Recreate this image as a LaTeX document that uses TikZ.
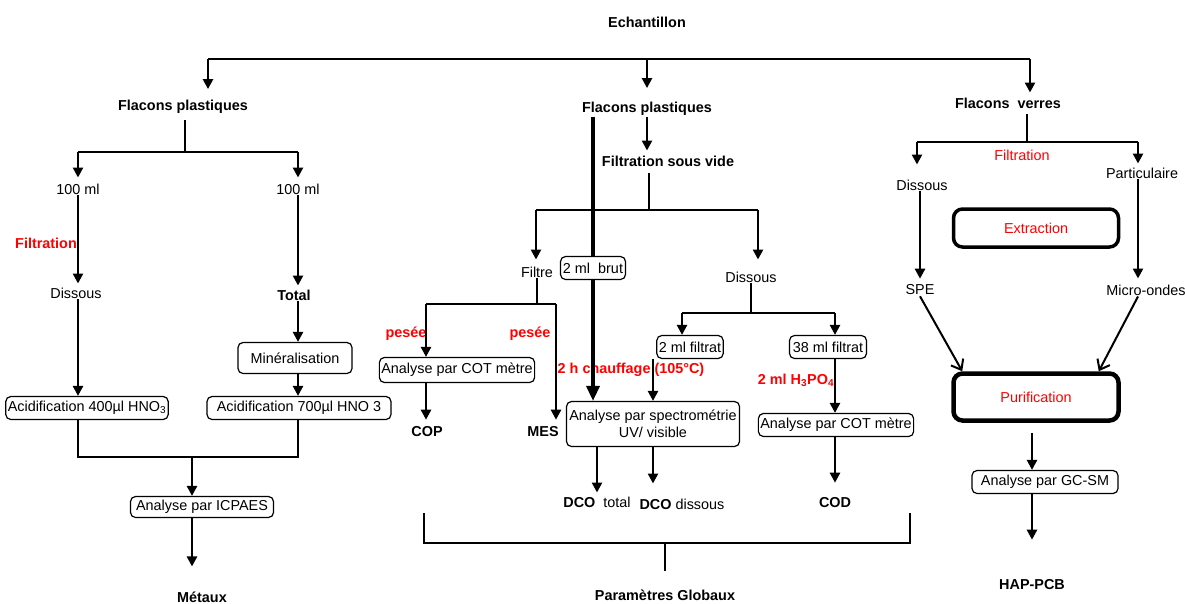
\documentclass[tikz,border=0pt]{standalone}
\usepackage{fontspec}
\setmainfont{Liberation Sans}
\usetikzlibrary{arrows.meta,positioning,calc}

\tikzset{
  txt/.style={font=\fontsize{14.4}{17}\selectfont, inner sep=1pt},
  btxt/.style={font=\fontsize{14.4}{17}\selectfont\bfseries, inner sep=1pt},
  rouge/.style={btxt, text=red},
  rougefin/.style={txt, text=red},
  box/.style={txt, draw, rounded corners=5pt, line width=1.2pt, fill=white,
              minimum height=23pt, inner xsep=2pt},
  grosbox/.style={txt, draw, text=red, line width=3.5pt, rounded corners=9pt,
              minimum width=165pt},
  fl/.style={line width=2.4pt, -{Triangle[length=10pt,width=10pt]}},
  grosfl/.style={line width=3.4pt, -{Triangle[length=15pt,width=13pt]}},
  flv/.style={line width=2pt, -{Straight Barb[length=9pt,width=14pt]}},
  trait/.style={line width=1.2pt},
}

\begin{document}
\begin{tikzpicture}[x=1pt, y=-1pt]
\useasboundingbox (0,0) rectangle (1185,603);

% 1. Echantillon et barre de repartition
\node[btxt] (ech) at (647,22) {Echantillon};
\coordinate (tl) at (208,59);
\coordinate (tm) at (647,59);
\coordinate (tr) at (1030,59);
\draw[trait] (tl) -- (tr);

% 2. Metaux (colonne gauche)
\node[btxt] (fp1) at (183,107) {Flacons plastiques};
\coordinate (b1l) at (78,152);
\coordinate (b1m) at (185,152);
\coordinate (b1r) at (298,152);
\node[txt] (ml1) at (78,189) {100 ml};
\node[txt] (ml2) at (298,189) {100 ml};
\node[rouge] (filt1) at (46,243) {Filtration};
\node[txt] (dis1) at (76,293) {Dissous};
\node[btxt] (tot) at (294,295) {Total};
\node[box, minimum width=114pt, minimum height=31pt] (min) at (295,358) {Minéralisation};
\node[box, minimum width=162pt] (ac1) at (87,408) {Acidification 400µl HNO\textsubscript{3}};
\node[box, minimum width=184pt] (ac2) at (299,408) {Acidification 700µl HNO 3};
\coordinate (m1l) at (78,457);
\coordinate (m1c) at (192,457);
\coordinate (m1r) at (298,457);
\node[box, minimum width=143pt, minimum height=21pt] (icp) at (202,507) {Analyse par ICPAES};
\node[btxt] (met) at (202,597) {Métaux};

\draw[fl, shorten >=10pt] (tl) -- (tl |- fp1.north);
\draw[trait, shorten <=5pt] (b1m |- fp1.south) -- (b1m);
\draw[trait] (b1l) -- (b1r);
\draw[fl, shorten >=5pt] (b1l) -- (b1l |- ml1.north);
\draw[fl, shorten >=5pt] (b1r) -- (b1r |- ml2.north);
\draw[fl, shorten >=3pt] (b1l |- ml1.south) -- (b1l |- dis1.north);
\draw[fl, shorten >=3pt] (b1r |- ml2.south) -- (b1r |- tot.north);
\draw[fl] (b1l |- dis1.south) -- (b1l |- ac1.north);
\draw[fl] (b1r |- tot.south) -- (b1r |- min.north);
\draw[fl] (b1r |- min.south) -- (b1r |- ac2.north);
\draw[trait] (b1l |- ac1.south) -- (m1l) -- (m1r) -- (b1r |- ac2.south);
\draw[fl] (m1c) -- (m1c |- icp.north);
\draw[fl, shorten >=24pt] (m1c |- icp.south) -- (m1c |- met.north);

% 3. Parametres globaux (colonne centrale)
\node[btxt] (fp2) at (647,109) {Flacons plastiques};
\node[btxt] (fsv) at (668,161) {Filtration sous vide};
\coordinate (b2l) at (536,210);
\coordinate (b2m) at (649,210);
\coordinate (b2r) at (758,210);
\node[txt] (filtre) at (537,272) {Filtre};
\node[box, minimum width=65pt] (brut) at (593,268) {2 ml\ \ brut};
\node[txt] (dis2) at (751,277) {Dissous};
\coordinate (b3l) at (426,304);
\coordinate (b3r) at (556,304);
\node[rouge] (pes1) at (406,334) {pesée};
\node[rouge] (pes2) at (530,334) {pesée};
\node[box, minimum width=150pt, minimum height=25pt] (cot1) at (457,370) {Analyse par COT mètre};
\node[btxt] (cop) at (427,432) {COP};
\node[btxt] (mes) at (543,432) {MES};
\coordinate (b4l) at (682,313);
\coordinate (b4r) at (835,313);
\node[box, minimum width=64pt] (f2) at (690,347) {2 ml filtrat};
\node[box, minimum width=77pt] (f38) at (828,347) {38 ml filtrat};
\node[rouge] (chauf) at (631,370) {2 h chauffage (105°C)};
\node[rouge] (h3po4) at (796,380) {2 ml H\textsubscript{3}PO\textsubscript{4}};
\node[box, align=center, minimum width=173pt, minimum height=45pt] (spec) at (653,424) {Analyse par spectrométrie\\UV/ visible};
\node[box, minimum width=152pt] (cot2) at (836,425) {Analyse par COT mètre};
\node[txt] (dcot) at (597,502) {\bfseries DCO\ \ \mdseries total};
\node[txt] (dcod) at (682,504) {\bfseries DCO \mdseries dissous};
\node[btxt] (cod) at (835,503) {COD};
\coordinate (k1) at (424,513);
\coordinate (k2) at (424,543);
\coordinate (k3) at (910,543);
\coordinate (k4) at (910,513);
\coordinate (km) at (665,543);
\node[btxt] (pg) at (665,595) {Paramètres Globaux};

\draw[fl, shorten >=13pt] (tm) -- (tm |- fp2.north);
\draw[line width=3.4pt] (brut |- fp2.south) -- (brut.north);
\draw[grosfl] (brut.south) -- (brut |- spec.north);
\draw[fl, shorten >=4pt] (tm |- fp2.south) -- (tm |- fsv.north);
\draw[trait, shorten <=6pt] (b2m |- fsv.south) -- (b2m);
\draw[trait] (b2l) -- (b2r);
\draw[fl, shorten >=6pt] (b2l) -- (b2l |- filtre.north);
\draw[fl, shorten >=11pt] (b2r) -- (b2r |- dis2.north);
\draw[trait] (filtre.south) -- (filtre |- b3l);
\draw[trait] (b3l) -- (b3r);
\draw[fl] (b3l) -- (b3l |- cot1.north);
\draw[fl, shorten >=6pt] (b3r) -- (b3r |- mes.north);
\draw[fl, shorten >=6pt] (b3l |- cot1.south) -- (b3l |- cop.north);
\draw[trait] (dis2.south) -- (dis2 |- b4l);
\draw[trait] (b4l) -- (b4r);
\draw[fl] (b4l) -- (b4l |- f2.north);
\draw[fl] (b4r) -- (b4r |- f38.north);
\draw[fl] (spec |- f2.south) -- (spec.north);
\draw[fl, shorten >=3pt] (dcot |- spec.south) -- (dcot.north);
\draw[fl, shorten >=14pt] (spec.south) -- (spec |- dcod.north);
\draw[fl] (b4r |- f38.south) -- (b4r |- cot2.north);
\draw[fl, shorten >=14pt] (b4r |- cot2.south) -- (b4r |- cod.north);
\draw[trait] (k1) -- (k2) -- (k3) -- (k4);
\draw[trait, shorten >=17pt] (km) -- (km |- pg.north);

% 4. HAP-PCB (colonne droite)
\node[btxt] (fv) at (1008,103) {Flacons\ \ verres};
\coordinate (b5l) at (917,142);
\coordinate (b5m) at (1027,142);
\coordinate (b5r) at (1138,142);
\node[rougefin] (filt3) at (1022,155) {Filtration};
\node[txt] (dis3) at (922,185) {Dissous};
\node[txt] (part) at (1142,173) {Particulaire};
\node[grosbox, minimum height=38pt] (extr) at (1036,228) {Extraction};
\node[txt] (spe) at (920,290) {SPE};
\node[txt] (mo) at (1146,290) {Micro-ondes};
\node[grosbox, line width=4.5pt, minimum height=47pt] (pur) at (1036,397) {Purification};
\node[box, minimum width=146pt] (gc) at (1045,482) {Analyse par GC-SM};
\node[btxt] (hap) at (1032,585) {HAP-PCB};

\draw[fl, shorten >=4pt] (tr) -- (tr |- fv.north);
\draw[trait, shorten <=5pt] (b5m |- fv.south) -- (b5m);
\draw[trait] (b5l) -- (b5r);
\draw[fl, shorten >=14pt] (b5l) -- (b5l |- dis3.north);
\draw[fl, shorten >=3pt] (b5r) -- (b5r |- part.north);
\draw[fl, shorten >=5pt] (spe |- dis3.south) -- (spe.north);
\draw[fl, shorten >=5pt] (b5r |- part.south) -- (b5r |- mo.north);
\draw[flv] (spe.south) -- ([xshift=11pt]pur.north west);
\draw[flv] (b5r |- mo.south) -- ([xshift=-22pt]pur.north east);
\draw[fl, shorten <=10pt] (hap |- pur.south) -- (hap |- gc.north);
\draw[fl, shorten >=39pt] (hap |- gc.south) -- (hap.north);
\end{tikzpicture}
\end{document}
